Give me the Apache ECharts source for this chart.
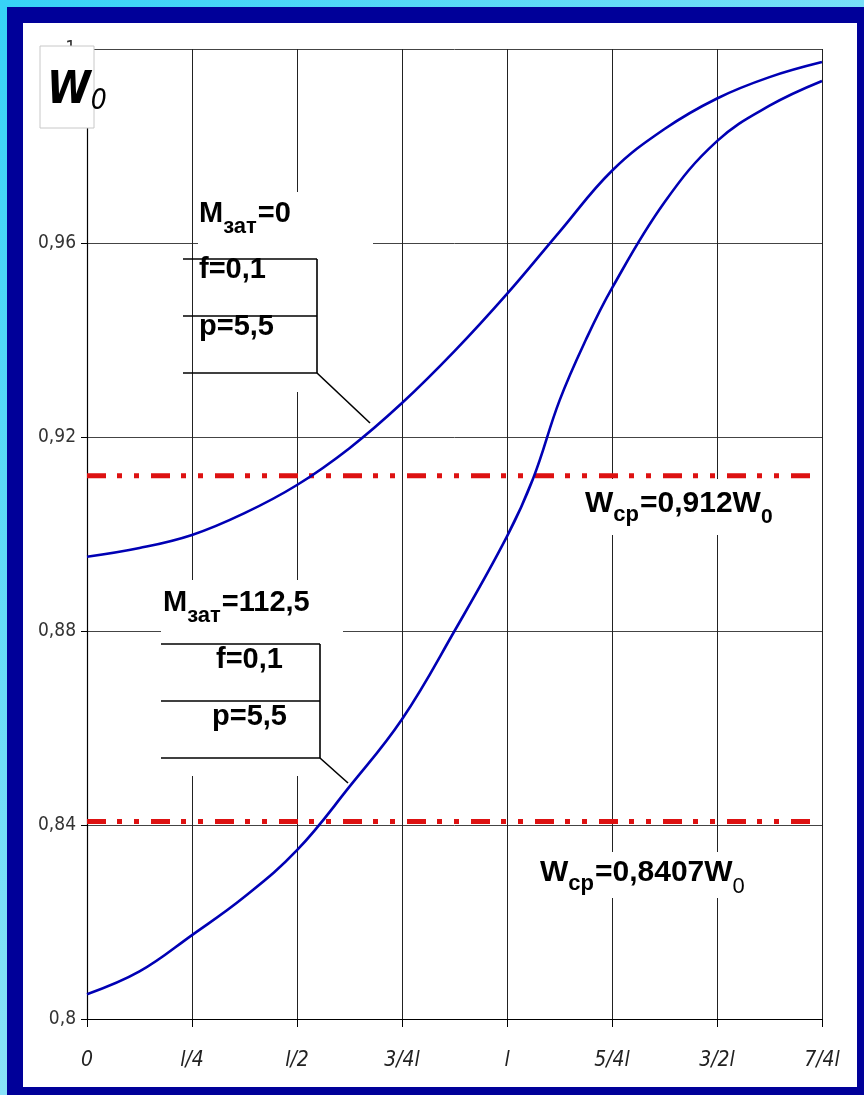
<!DOCTYPE html>
<html>
<head>
<meta charset="utf-8">
<script src="https://cdn.jsdelivr.net/npm/echarts@6/dist/echarts.min.js"></script>
<style>
  html, body { margin:0; padding:0; width:864px; height:1095px; overflow:hidden; }
  body { background: linear-gradient(135deg, #36d2f7 0%, #8fe3f8 60%, #c4f1fb 100%); position:relative; }
  #frame { position:absolute; left:7px; top:7px; width:857px; height:1088px; background:#000099; }
  #paper { position:absolute; left:23px; top:23px; width:834px; height:1064px; background:#ffffff; }
  #chart { position:absolute; left:0; top:0; width:864px; height:1095px; }
</style>
</head>
<body>
<div id="frame"></div>
<div id="paper"></div>
<div id="chart"></div>
<script>
// ---- data ----
const xTickLabels = ['0', 'l/4', 'l/2', '3/4l', 'l', '5/4l', '3/2l', '7/4l'];
const yTickLabels = ['0,8', '0,84', '0,88', '0,92', '0,96', '1'];

// curve M_зат = 0
const upperX = [0, 0.125, 0.25, 0.375, 0.5, 0.625, 0.75, 0.875, 1.0, 1.125, 1.25, 1.375, 1.5, 1.625, 1.75];
const upperY = [0.8953, 0.8971, 0.8998, 0.9043, 0.9101, 0.9177, 0.9270, 0.9377, 0.9495, 0.9623, 0.9749, 0.9835, 0.9898, 0.9942, 0.9973];

// curve M_зат = 112,5
const lowerX = [0, 0.125, 0.25, 0.375, 0.5, 0.625, 0.75, 0.875, 1.0, 1.0625, 1.125, 1.1875, 1.25, 1.375, 1.5, 1.625, 1.75];
const lowerY = [0.8051, 0.8098, 0.8173, 0.8252, 0.8348, 0.8479, 0.8618, 0.8800, 0.8995, 0.9115, 0.9275, 0.9400, 0.9507, 0.9684, 0.9810, 0.9883, 0.9934];

// average levels W_ср
const avgLevels = [0.912, 0.8407];
const avgLineEnd = 1.726;

// ---- chart ----
const chart = echarts.init(document.getElementById('chart'), null, {renderer:'canvas'});

const narrow = '"Liberation Sans Narrow", "DejaVu Sans Condensed", "Liberation Sans", sans-serif';
const sans = '"Liberation Sans", Arial, sans-serif';

const ctx = document.createElement('canvas').getContext('2d');
function textRuns(x, baseline, parts, z) {
  const els = [];
  let cx = x;
  parts.forEach(p => {
    const font = (p.style || 'normal') + ' ' + (p.weight || 'bold') + ' ' + p.size + 'px ' + (p.family || sans);
    ctx.font = font;
    const w = ctx.measureText(p.t).width;
    els.push({
      type: 'text', x: cx, y: baseline + (p.dy || 0) - 0.35 * p.size, z: z || 10,
      style: { text: p.t, font: font, fill: '#000', align: 'left', verticalAlign: 'middle' }
    });
    cx += w + (p.gap || 0);
  });
  return els;
}
function line(x1, y1, x2, y2, z) {
  return { type: 'line', z: z || 9, shape: {x1, y1, x2, y2}, style: { stroke: '#000', lineWidth: 1.6 } };
}
function rect(x, y, w, h, z, extra) {
  return Object.assign({ type: 'rect', z: z || 1, shape: {x, y, width: w, height: h}, style: { fill: '#fff' } }, extra || {});
}

const graphics = [].concat(
  // white masks hiding grid lines behind annotations
  [rect(198, 192, 175, 200, 1), rect(161, 580, 182, 196, 1), rect(578, 479, 225, 56, 1), rect(530, 852, 240, 46, 1)],
  // upper annotation box
  [line(183, 259, 317, 259), line(183, 316, 317, 316), line(183, 373, 317, 373), line(317, 259, 317, 373), line(317, 373, 370, 423)],
  // lower annotation box
  [line(161, 644, 320, 644), line(161, 701, 320, 701), line(161, 758, 320, 758), line(320, 644, 320, 758), line(320, 758, 348, 783)],
  textRuns(199, 224, [{t:'M', size:29}, {t:'зат', size:22, dy:11, gap:1}, {t:'=0', size:29}]),
  textRuns(199, 280, [{t:'f=0,1', size:29}]),
  textRuns(199, 337, [{t:'p=5,5', size:29}]),
  textRuns(163, 613, [{t:'M', size:29}, {t:'зат', size:22, dy:11, gap:1}, {t:'=112,5', size:29}]),
  textRuns(216, 670, [{t:'f=0,1', size:29}]),
  textRuns(212, 727, [{t:'p=5,5', size:29}]),
  textRuns(585, 514, [{t:'W', size:30}, {t:'ср', size:22, dy:9, gap:1}, {t:'=0,912W', size:30}, {t:'0', size:21, dy:11}]),
  textRuns(540, 883, [{t:'W', size:30}, {t:'ср', size:22, dy:9, gap:1}, {t:'=0,8407W', size:30}, {t:'0', size:22, dy:12, weight:'normal'}]),
  // W0 axis title box
  [rect(40, 46, 54, 82, 20, { style: { fill: '#fff', stroke: '#c8c8c8', lineWidth: 1 } })],
  textRuns(47, 107, [{t:'W', size:44, style:'italic', family: narrow}, {t:'0', size:28, style:'italic', weight:'normal', family: narrow, dy:5, gap:0}], 21)
);

const curveStyle = { color: '#0000b4', width: 2.6 };
const avgStyle = { color: '#dd1111', width: 5, type: [19, 11, 5, 12, 5, 12], cap: 'butt' };

chart.setOption({
  animation: false,
  backgroundColor: 'transparent',
  grid: { left: 87, right: 42, top: 49, bottom: 76, containLabel: false },
  xAxis: {
    type: 'value', min: 0, max: 1.75, interval: 0.25,
    axisLine: { show: true, onZero: false, lineStyle: { color: '#000', width: 1.2 } },
    axisTick: { show: true, length: 8, lineStyle: { color: '#000' } },
    axisLabel: {
      margin: 31, color: '#222', fontSize: 21, fontStyle: 'italic', fontFamily: narrow,
      formatter: v => xTickLabels[Math.round(v / 0.25)]
    },
    splitLine: { show: true, lineStyle: { color: '#222', width: 1 } }
  },
  yAxis: {
    type: 'value', min: 0.8, max: 1.0, interval: 0.04,
    axisLine: { show: true, onZero: false, lineStyle: { color: '#000', width: 1.2 } },
    axisTick: { show: true, length: 6, lineStyle: { color: '#000' } },
    axisLabel: {
      margin: 11, color: '#333', fontSize: 19, fontFamily: narrow,
      formatter: v => yTickLabels[Math.round((v - 0.8) / 0.04)]
    },
    splitLine: { show: true, lineStyle: { color: '#444', width: 1 } }
  },
  series: [
    { type: 'line', name: 'M=0', data: upperX.map((x, i) => [x, upperY[i]]), smooth: 0.4,
      showSymbol: false, symbol: 'none', lineStyle: curveStyle, z: 5 },
    { type: 'line', name: 'M=112,5', data: lowerX.map((x, i) => [x, lowerY[i]]), smooth: 0.4,
      showSymbol: false, symbol: 'none', lineStyle: curveStyle, z: 5 },
    ...avgLevels.map(v => ({
      type: 'line', data: [[0, v], [avgLineEnd, v]], showSymbol: false, symbol: 'none', lineStyle: avgStyle, z: 4
    }))
  ],
  graphic: graphics
});
</script>
</body>
</html>
